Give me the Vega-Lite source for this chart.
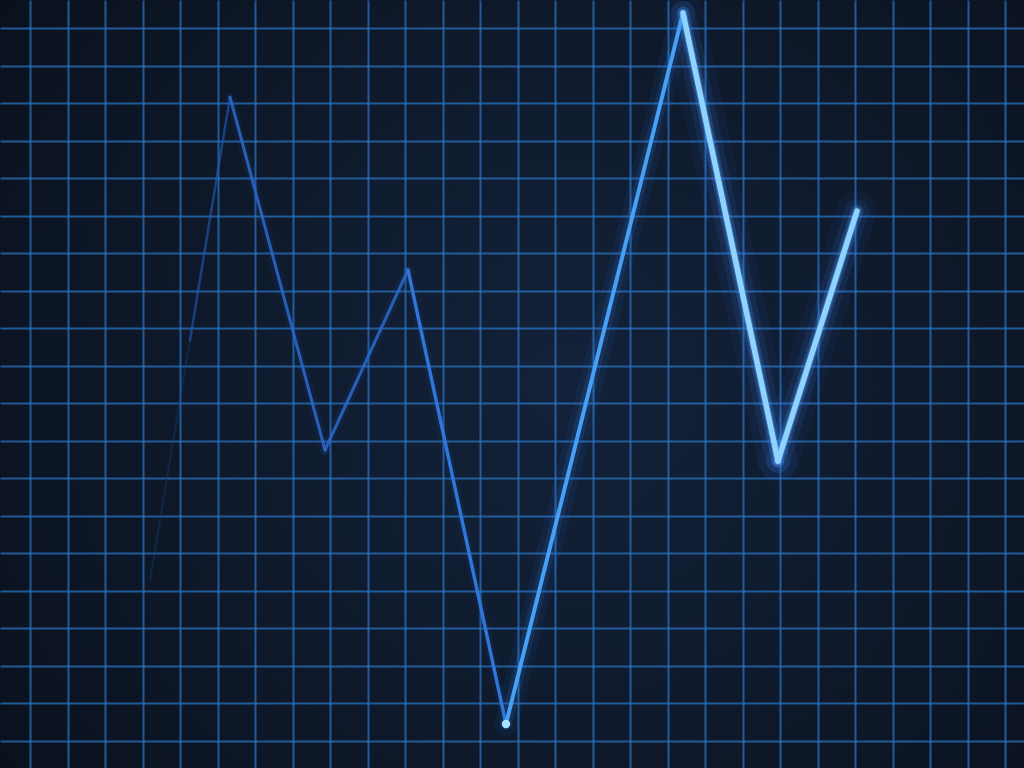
{
  "$schema": "https://vega.github.io/schema/vega-lite/v6.json",
  "width": 1024,
  "height": 768,
  "autosize": {"type": "fit", "contains": "padding"},
  "padding": 0,
  "background": "#0a111e",
  "config": {
    "view": {"stroke": null, "fill": {"gradient": "radial", "x1": 0.55, "y1": 0.5, "x2": 0.55, "y2": 0.5, "r1": 0, "r2": 0.75, "stops": [{"offset": 0, "color": "#13223a"}, {"offset": 1, "color": "#090f1a"}]}},
    "axis": {"domain": false, "ticks": false, "labels": false, "title": null, "grid": true, "gridColor": "#2a76c4", "gridWidth": 2, "gridOpacity": 0.72},
    "line": {"strokeCap": "round", "strokeJoin": "round"}
  },
  "data": {
    "values": [
      {"seg": "s0", "x": 150, "y": 580},
      {"seg": "s0", "x": 190, "y": 340},
      {"seg": "s1", "x": 190, "y": 340},
      {"seg": "s1", "x": 230, "y": 97},
      {"seg": "s2", "x": 230, "y": 97},
      {"seg": "s2", "x": 325, "y": 450},
      {"seg": "s3", "x": 325, "y": 450},
      {"seg": "s3", "x": 408, "y": 270},
      {"seg": "s4", "x": 408, "y": 270},
      {"seg": "s4", "x": 506, "y": 724},
      {"seg": "s5", "x": 506, "y": 724},
      {"seg": "s5", "x": 683, "y": 13},
      {"seg": "s6", "x": 683, "y": 13},
      {"seg": "s6", "x": 778, "y": 461},
      {"seg": "s7", "x": 778, "y": 461},
      {"seg": "s7", "x": 857, "y": 211}
    ]
  },
  "encoding": {
    "x": {"field": "x", "type": "quantitative", "scale": {"domain": [0, 1024], "nice": false, "zero": false},
      "axis": {"values": [30, 67.5, 105, 142.5, 180, 217.5, 255, 292.5, 330, 367.5, 405, 442.5, 480, 517.5, 555, 592.5, 630, 667.5, 705, 742.5, 780, 817.5, 855, 892.5, 930, 967.5, 1005]}},
    "y": {"field": "y", "type": "quantitative", "scale": {"domain": [768, 0], "nice": false, "zero": false},
      "axis": {"values": [28, 65.5, 103, 140.5, 178, 215.5, 253, 290.5, 328, 365.5, 403, 440.5, 478, 515.5, 553, 590.5, 628, 665.5, 703, 740.5]}},
    "detail": {"field": "seg"}
  },
  "layer": [
    {"transform": [{"filter": {"field": "seg", "oneOf": ["s2", "s3", "s4"]}}],
     "mark": {"type": "line", "clip": true, "color": "#2a6ad0", "strokeWidth": 10, "opacity": 0.08}},
    {"transform": [{"filter": {"field": "seg", "oneOf": ["s5"]}}],
     "mark": {"type": "line", "clip": true, "color": "#2f84f4", "strokeWidth": 24, "opacity": 0.07}},
    {"transform": [{"filter": {"field": "seg", "oneOf": ["s5"]}}],
     "mark": {"type": "line", "clip": true, "color": "#2f84f4", "strokeWidth": 12, "opacity": 0.14}},
    {"transform": [{"filter": {"field": "seg", "oneOf": ["s6", "s7"]}}],
     "mark": {"type": "line", "clip": true, "color": "#2f7ff0", "strokeWidth": 40, "opacity": 0.06}},
    {"transform": [{"filter": {"field": "seg", "oneOf": ["s6", "s7"]}}],
     "mark": {"type": "line", "clip": true, "color": "#3a8cff", "strokeWidth": 24, "opacity": 0.1}},
    {"transform": [{"filter": {"field": "seg", "oneOf": ["s6", "s7"]}}],
     "mark": {"type": "line", "clip": true, "color": "#4a9cff", "strokeWidth": 13, "opacity": 0.2}},
    {"transform": [{"filter": {"field": "seg", "oneOf": ["s6", "s7"]}}],
     "mark": {"type": "line", "clip": true, "color": "#5aaaff", "strokeWidth": 8, "opacity": 0.35}},
    {"transform": [{"filter": {"field": "seg", "oneOf": ["s0"]}}],
     "mark": {"type": "line", "clip": true, "color": "#1a4585", "strokeWidth": 2, "opacity": 0.35}},
    {"transform": [{"filter": {"field": "seg", "oneOf": ["s1"]}}],
     "mark": {"type": "line", "clip": true, "color": "#2058b0", "strokeWidth": 2.5, "opacity": 0.65}},
    {"transform": [{"filter": {"field": "seg", "oneOf": ["s2", "s3"]}}],
     "mark": {"type": "line", "clip": true, "color": "#2a66c4", "strokeWidth": 3, "opacity": 0.9}},
    {"transform": [{"filter": {"field": "seg", "oneOf": ["s4"]}}],
     "mark": {"type": "line", "clip": true, "color": "#2f76d8", "strokeWidth": 3.5}},
    {"transform": [{"filter": {"field": "seg", "oneOf": ["s5"]}}],
     "mark": {"type": "line", "clip": true, "color": "#48a0f4", "strokeWidth": 4}},
    {"transform": [{"filter": {"field": "seg", "oneOf": ["s6", "s7"]}}],
     "mark": {"type": "line", "clip": true, "color": "#8fd4ff", "strokeWidth": 5.5}},
    {"transform": [{"filter": {"field": "seg", "oneOf": ["s5"]}}],
     "mark": {"type": "point", "filled": true, "color": "#a6e4ff", "size": 70, "opacity": 1, "clip": true},
     "encoding": {"x": {"field": "x", "type": "quantitative", "aggregate": "min"}, "y": {"field": "y", "type": "quantitative", "aggregate": "max"}, "detail": null}}
  ]
}
